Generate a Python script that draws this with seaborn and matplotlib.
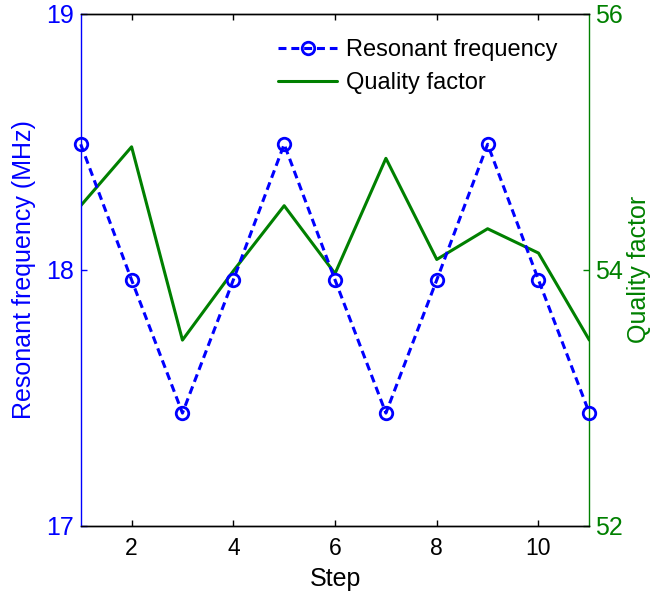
import numpy as np
import pandas as pd
import matplotlib
matplotlib.use("Agg")
import matplotlib.pyplot as plt
import seaborn as sns

# Measured values per step
steps = [1, 2, 3, 4, 5, 6, 7, 8, 9, 10, 11]
resonant_freq = [18.49, 17.96, 17.44, 17.96, 18.49, 17.96, 17.44, 17.96, 18.49, 17.96, 17.44]
quality_factor = [54.50, 54.96, 53.45, 53.99, 54.50, 53.97, 54.87, 54.08, 54.32, 54.13, 53.45]

freq_ticks = [17, 18, 19]
q_ticks = [52, 54, 56]
x_ticks = [2, 4, 6, 8, 10]

sns.set_style("white")
plt.rcParams["font.family"] = ["Liberation Sans", "DejaVu Sans"]
plt.rcParams["text.color"] = "black"

df = pd.DataFrame({"Step": steps, "Freq": resonant_freq, "Q": quality_factor})

BLUE = "#0000ff"
GREEN = "#008000"

fig = plt.figure(figsize=(6.5, 5.98), dpi=100)
ax = fig.add_axes([0.1242, 0.1209, 0.7825, 0.8562])
ax2 = ax.twinx()

sns.lineplot(data=df, x="Step", y="Freq", ax=ax, color=BLUE, linewidth=2.2,
             linestyle=(0, (2.6, 1.6)), marker="o", markersize=9,
             markerfacecolor="none", markeredgecolor=BLUE, markeredgewidth=2,
             label="Resonant frequency", legend=False, clip_on=False, zorder=5)
sns.lineplot(data=df, x="Step", y="Q", ax=ax2, color=GREEN, linewidth=2.2,
             label="Quality factor", legend=False)

ax.set_xlim(1, 11)
ax.set_ylim(17, 19)
ax2.set_ylim(52, 56)
ax.set_xticks(x_ticks)
ax.set_yticks(freq_ticks)
ax2.set_yticks(q_ticks)

# draw the blue axes above the twin so its markers stay on top
ax.set_zorder(ax2.get_zorder() + 1)
ax.patch.set_visible(False)

ax.set_xlabel("Step", fontsize=18, color="black")
ax.set_ylabel("Resonant frequency (MHz)", fontsize=18, color=BLUE)
ax2.set_ylabel("Quality factor", fontsize=18, color=GREEN)
ax.yaxis.set_label_coords(-0.088, 0.5)
ax2.yaxis.set_label_coords(1.074, 0.5)
ax.xaxis.set_label_coords(0.5, -0.080)

ax.tick_params(axis="x", direction="in", length=4, width=1, colors="black",
               labelsize=16.5, top=True, bottom=True, pad=8)
ax.tick_params(axis="y", direction="in", length=4, width=1, colors=BLUE,
               labelsize=18, left=True, right=False, pad=5)
ax2.tick_params(axis="y", direction="in", length=4, width=1, colors=GREEN,
                labelsize=18, right=True, left=False, pad=4)

for a in (ax, ax2):
    for s in a.spines.values():
        s.set_linewidth(1)
    a.spines["top"].set_color("black")
    a.spines["bottom"].set_color("black")
    a.spines["left"].set_color(BLUE)
    a.spines["right"].set_color(GREEN)
    a.grid(False)
ax2.spines["left"].set_visible(False)
ax.spines["right"].set_visible(False)

h1, l1 = ax.get_legend_handles_labels()
h2, l2 = ax2.get_legend_handles_labels()
leg = ax.legend(h1 + h2, l1 + l2, loc="upper left", bbox_to_anchor=(0.4277, 0.934),
                bbox_transform=fig.transFigure, frameon=False, fontsize=17,
                handlelength=2.5, handletextpad=0.4, labelspacing=0.45,
                borderpad=0, borderaxespad=0, numpoints=1)
for t in leg.get_texts():
    t.set_color("black")

fig.savefig("out.png", dpi=100)
